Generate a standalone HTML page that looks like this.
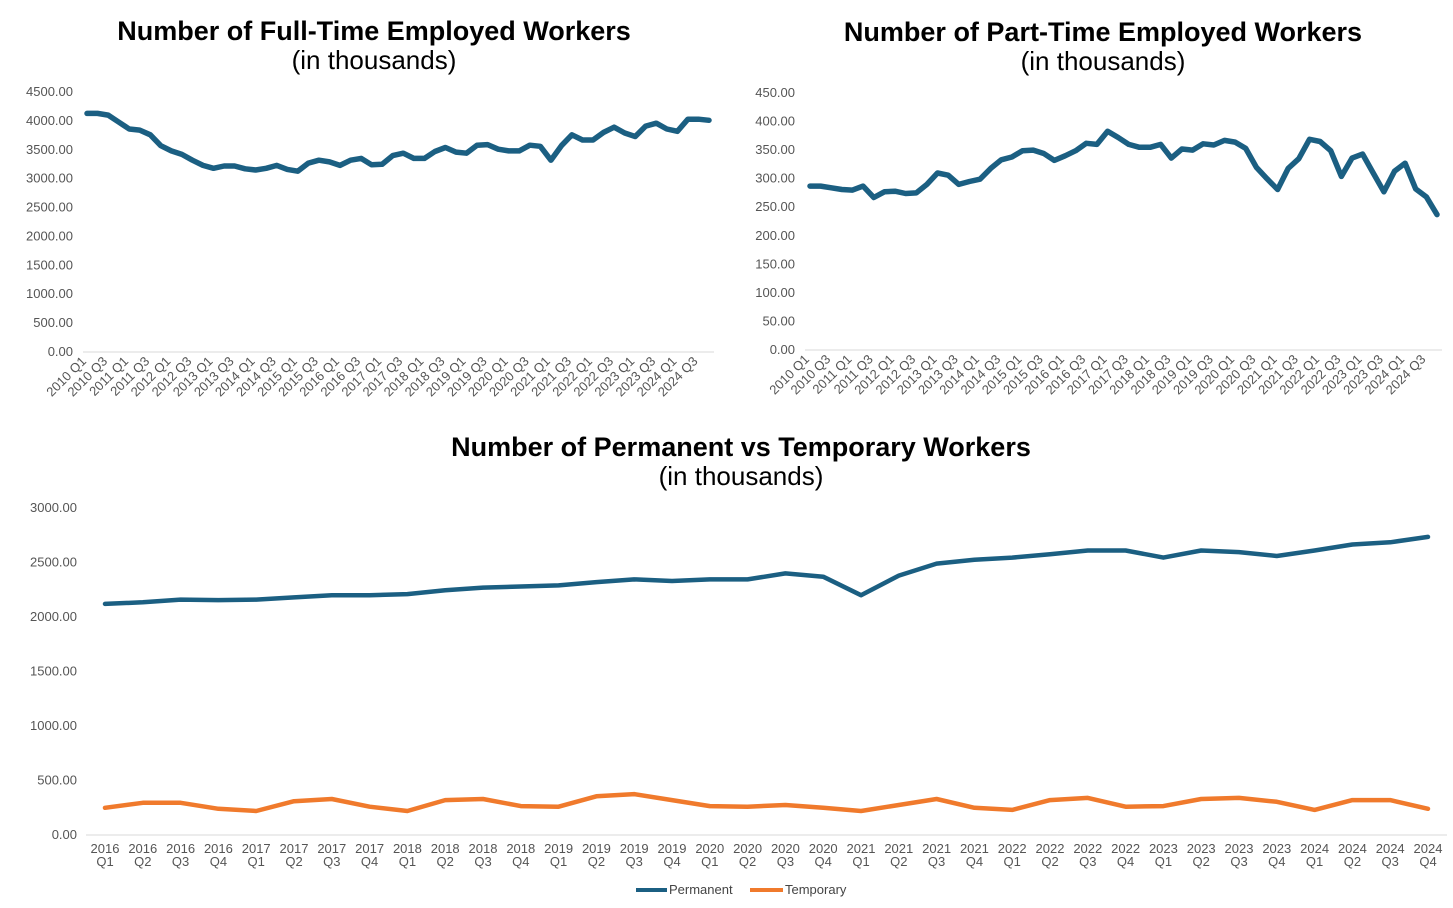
<!DOCTYPE html>
<html><head><meta charset="utf-8"><style>
body{margin:0;background:#fff;width:1453px;height:903px;overflow:hidden;font-family:"Liberation Sans",sans-serif}
svg text{font-family:"Liberation Sans",sans-serif}
</style></head><body>
<svg id="s" width="1453" height="903" xmlns="http://www.w3.org/2000/svg">
<text x="374" y="40" text-anchor="middle" font-size="27" font-weight="bold">Number of Full-Time Employed Workers</text>
<text x="374" y="69" text-anchor="middle" font-size="26">(in thousands)</text>
<text x="1103" y="41" text-anchor="middle" font-size="27" font-weight="bold">Number of Part-Time Employed Workers</text>
<text x="1103" y="70" text-anchor="middle" font-size="26">(in thousands)</text>
<text x="741" y="456" text-anchor="middle" font-size="27" font-weight="bold">Number of Permanent vs Temporary Workers</text>
<text x="741" y="485" text-anchor="middle" font-size="26">(in thousands)</text>
<g>
<line x1="636" y1="890" x2="667" y2="890" stroke="#1b5f82" stroke-width="4"/>
<text x="669" y="894" font-size="13" fill="#444">Permanent</text>
<line x1="750" y1="890" x2="783" y2="890" stroke="#f07a2c" stroke-width="4"/>
<text x="785" y="894" font-size="13" fill="#444">Temporary</text>
</g>
</svg>
<script>
const fullTime=[4130,4130,4100,3980,3860,3840,3760,3570,3480,3420,3320,3230,3180,3220,3220,3170,3150,3180,3230,3160,3130,3270,3320,3290,3230,3320,3350,3240,3250,3400,3440,3350,3350,3470,3540,3460,3440,3580,3590,3510,3480,3480,3580,3560,3320,3570,3760,3670,3670,3800,3890,3790,3730,3910,3960,3860,3820,4030,4030,4010];
const partTime=[287,287,284,281,280,287,267,277,278,274,275,290,310,306,290,295,299,318,333,338,349,350,344,332,340,349,362,360,383,372,360,355,355,360,336,352,350,361,359,367,364,353,320,300,281,318,335,369,365,349,304,336,343,310,277,313,327,282,268,237];
const permanent=[2120,2135,2160,2155,2160,2180,2200,2200,2210,2245,2270,2280,2290,2320,2345,2330,2345,2345,2400,2370,2200,2380,2490,2525,2545,2575,2610,2610,2545,2610,2595,2560,2610,2665,2685,2735];
const temporary=[250,295,295,240,220,310,330,260,220,320,330,265,260,355,375,320,265,260,275,250,220,275,330,250,230,320,340,260,265,330,340,305,230,320,320,240];
const ftTicks=[0,500,1000,1500,2000,2500,3000,3500,4000,4500];
const ptTicks=[0,50,100,150,200,250,300,350,400,450];
const pvTicks=[0,500,1000,1500,2000,2500,3000];
const NS="http://www.w3.org/2000/svg";
const svg=document.getElementById('s');
function el(t,a,parent){const e=document.createElementNS(NS,t);for(const k in a)e.setAttribute(k,a[k]);(parent||svg).appendChild(e);return e;}
function quarterLabels(startYear,n){const r=[];for(let i=0;i<n;i++)r.push([startYear+Math.floor(i/4),'Q'+(i%4+1)]);return r;}
function chart(o){
  const g=el('g',{});
  
  
  const n=o.series[0].data.length;
  const max=o.ticks[o.ticks.length-1];
  const xs=i=>o.x0+(o.x1-o.x0)*i/(n-1);
  const ys=v=>o.y0-(o.y0-o.yTop)*v/max;
  o.ticks.forEach(t=>{
    const tx=el('text',{x:o.labelX,y:ys(t)+4,'text-anchor':'end','font-size':13,fill:'#555'},g);
    
    
    tx.textContent=t.toFixed(2);
  });
  const ax=el('line',{x1:o.axisX0,x2:o.axisX1,y1:o.y0,y2:o.y0,stroke:'#d9d9d9','stroke-width':1},g);
  
  
  const ql=quarterLabels(o.startYear,n);
  if(o.rotated){
    for(let i=0;i<n;i+=2){
      const x=xs(i),y=o.y0+10;
      const tx=el('text',{x:x,y:y,'text-anchor':'end','font-size':13,fill:'#555',transform:`rotate(-45 ${x} ${y})`},g);
      
      
      tx.textContent=ql[i][0]+' '+ql[i][1];
    }
  } else {
    for(let i=0;i<n;i++){
      const x=xs(i);
      const tx=el('text',{x:x,y:o.y0+18,'text-anchor':'middle','font-size':13,fill:'#555'},g);
      
      
      tx.textContent=ql[i][0];
      const tq=el('text',{x:x,y:o.y0+31,'text-anchor':'middle','font-size':13,fill:'#555'},g);
      
      
      tq.textContent=ql[i][1];
    }
  }
  o.series.forEach(s=>{
    const d=s.data.map((v,i)=>(i?'L':'M')+xs(i).toFixed(1)+' '+ys(v).toFixed(1)).join(' ');
    const p=el('path',{d:d,fill:'none',stroke:s.color,'stroke-width':o.sw,'stroke-linejoin':'round','stroke-linecap':'round'},g);
    
    
  });
}
chart({name:'full-time-chart',x0:87,x1:709,axisX0:83,axisX1:714,y0:352,yTop:92,labelX:73,ticks:ftTicks,startYear:2010,rotated:true,sw:5.5,series:[{name:'full-time-line',data:fullTime,color:'#1b5f82'}]});
chart({name:'part-time-chart',x0:810,x1:1437,axisX0:805,axisX1:1442,y0:350,yTop:93,labelX:795,ticks:ptTicks,startYear:2010,rotated:true,sw:5.5,series:[{name:'part-time-line',data:partTime,color:'#1b5f82'}]});
chart({name:'permanent-temporary-chart',x0:105,x1:1428,axisX0:86,axisX1:1447,y0:835,yTop:508,labelX:77,ticks:pvTicks,startYear:2016,rotated:false,sw:4.5,series:[{name:'permanent-line',data:permanent,color:'#1b5f82'},{name:'temporary-line',data:temporary,color:'#f07a2c'}]});
</script>
</body></html>
